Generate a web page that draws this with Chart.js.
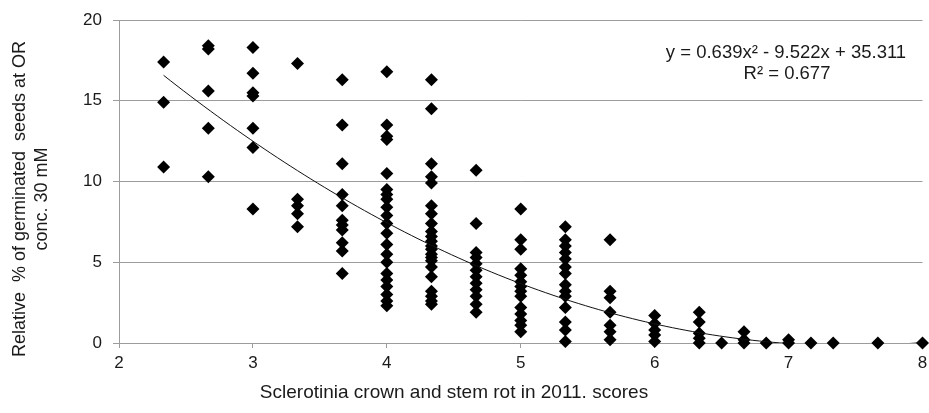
<!DOCTYPE html>
<html>
<head>
<meta charset="utf-8">
<script src="https://cdn.jsdelivr.net/npm/chart.js@4.4.0/dist/chart.umd.min.js"></script>
<style>
  body { margin: 0; background: #fff; }
  #wrap { width: 929px; height: 413px; }
</style>
</head>
<body>
<div id="wrap"><canvas id="myChart" width="929" height="413"></canvas></div>
<script>
// Scores (x) and the germination values measured at each score (y)
const scores = [2.333, 2.667, 3, 3.333, 3.667, 4, 4.333, 4.667, 5, 5.333, 5.667,
                6, 6.333, 6.5, 6.667, 6.833, 7, 7.167, 7.333, 7.667, 8];
const germinated = [
    [17.4, 14.9, 10.9],
    [18.4, 18.2, 15.6, 13.3, 10.3],
    [18.3, 16.7, 15.5, 15.3, 13.3, 12.1, 8.3],
    [17.3, 8.9, 8.5, 8.0, 7.2],
    [16.3, 13.5, 11.1, 9.2, 8.5, 7.6, 7.3, 7.0, 6.2, 5.7, 4.3],
    [16.8, 13.5, 12.8, 12.6, 10.5, 9.5, 9.2, 8.9, 8.4, 7.9, 7.4, 6.8, 6.1, 5.5, 5.0, 4.3, 3.9, 3.5, 3.0, 2.6, 2.3],
    [16.3, 14.5, 11.1, 10.3, 9.9, 8.5, 8.0, 7.4, 6.9, 6.6, 6.3, 6.0, 5.8, 5.5, 5.3, 5.1, 4.7, 4.1, 3.2, 2.9, 2.6, 2.4],
    [10.7, 7.4, 5.6, 5.3, 4.9, 4.5, 4.1, 3.7, 3.3, 2.9, 2.4, 1.9],
    [8.3, 6.4, 5.8, 4.6, 4.2, 3.8, 3.5, 3.2, 2.9, 2.2, 1.8, 1.4, 1.1, 0.7],
    [7.2, 6.4, 6.0, 5.6, 5.2, 4.7, 4.3, 3.6, 3.2, 2.9, 2.2, 1.3, 0.8, 0.1],
    [6.4, 3.2, 2.8, 1.9, 1.1, 0.7, 0.2],
    [1.7, 1.2, 0.8, 0.5, 0.1],
    [1.9, 1.3, 0.6, 0.3, 0.0],
    [0],
    [0.7, 0.2, 0],
    [0],
    [0.2, 0],
    [0],
    [0],
    [0],
    [0]
];
const xTicks = [2, 3, 4, 5, 6, 7, 8];
const yTicks = [0, 5, 10, 15, 20];

// polynomial trendline as printed on the chart (a, b, c of ax² + bx + c)
const trendCoef = [0.639, -9.522, 35.311];
const trendRange = [2.333, 8];
const trendText = ['y = 0.639x² - 9.522x + 35.311', 'R² = 0.677'];

const xTitle = 'Sclerotinia crown and stem rot in 2011. scores';
const yTitle = ['Relative  % of germinated  seeds at OR', 'conc. 30 mM'];

const FONT = '"Liberation Sans", Arial, sans-serif';
const GRID = '#9c9c9c';

const points = [];
scores.forEach((s, i) => {
    germinated[i].forEach(v => points.push({ x: s, y: v }));
});

const trend = [];
for (let x = trendRange[0]; x <= trendRange[1] + 1e-9; x += 0.05) {
    trend.push({ x: x, y: trendCoef[0] * x * x + trendCoef[1] * x + trendCoef[2] });
}

// titles and equation text
const textPlugin = {
    id: 'texts',
    afterDraw(chart) {
        const ctx = chart.ctx;
        ctx.save();
        ctx.fillStyle = '#1a1a1a';
        ctx.textBaseline = 'middle';
        ctx.textAlign = 'center';
        ctx.font = '18.5px ' + FONT;
        ctx.fillText(trendText[0], 786, 53);
        ctx.fillText(trendText[1], 787, 74);

        ctx.font = '19px ' + FONT;
        ctx.fillText(xTitle, 454, 393);

        ctx.font = '18px ' + FONT;
        ctx.translate(20, 199);
        ctx.rotate(-Math.PI / 2);
        ctx.fillText(yTitle[0], 0, 0);
        ctx.fillText(yTitle[1], 0, 22);
        ctx.restore();
    }
};

const ctx = document.getElementById('myChart').getContext('2d');
const myChart = new Chart(ctx, {
    type: 'scatter',
    data: {
        datasets: [{
            data: points,
            pointStyle: 'rectRot',
            pointRadius: 6.5,
            pointHoverRadius: 6.5,
            backgroundColor: '#000',
            borderColor: '#000',
            borderWidth: 0,
            clip: false,
            order: 1
        }, {
            type: 'line',
            data: trend,
            borderColor: '#111',
            borderWidth: 1,
            pointRadius: 0,
            fill: false,
            tension: 0,
            order: 0
        }]
    },
    options: {
        responsive: false,
        animation: false,
        layout: { padding: { top: 20, right: 2, left: 0, bottom: 0 } },
        plugins: { legend: { display: false }, tooltip: { enabled: false } },
        scales: {
            x: {
                type: 'linear',
                min: 2,
                max: 8,
                afterBuildTicks: s => { s.ticks = xTicks.map(v => ({ value: v })); },
                afterFit: s => { s.height = 70; s.paddingLeft = 0; s.paddingRight = 0; },
                grid: { drawOnChartArea: false, drawTicks: true, tickLength: 5, color: GRID },
                border: { color: GRID, width: 1 },
                ticks: { font: { family: FONT, size: 17 }, color: '#1a1a1a', padding: 5, maxRotation: 0 }
            },
            y: {
                type: 'linear',
                min: 0,
                max: 20,
                afterBuildTicks: s => { s.ticks = yTicks.map(v => ({ value: v })); },
                afterFit: s => { s.width = 119; s.paddingTop = 0; s.paddingBottom = 0; },
                grid: { color: GRID, lineWidth: 1, tickLength: 6 },
                border: { color: GRID, width: 1 },
                ticks: { font: { family: FONT, size: 17 }, color: '#1a1a1a', padding: 11 }
            }
        }
    },
    plugins: [textPlugin]
});
</script>
</body>
</html>
